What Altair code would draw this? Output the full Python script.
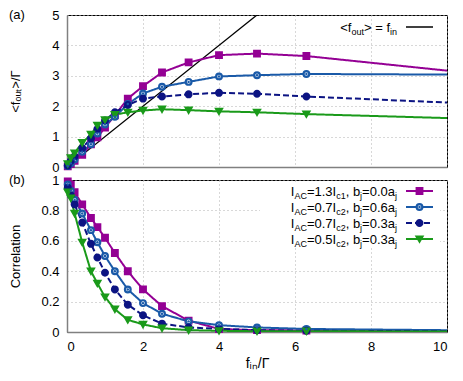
import altair as alt
import pandas as pd

# ---------------- data ----------------
x_vals = [0.02, 0.1, 0.2, 0.4, 0.63, 0.8, 1.0, 1.26, 1.6, 2.0, 2.5, 3.2, 4.0, 5.0, 6.3, 10.0]
series = ["s1", "s2", "s3", "s4"]

fout_s1 = [0.02, 0.1, 0.2, 0.4, 0.75, 0.98, 1.3, 1.7, 2.25, 2.66, 3.11, 3.44, 3.68, 3.73, 3.65, 3.17]
fout_s2 = [0.03, 0.12, 0.25, 0.5, 0.75, 1.1, 1.4, 1.65, 2.07, 2.42, 2.64, 2.8, 2.98, 3.02, 3.06, 3.04]
fout_s3 = [0.05, 0.2, 0.35, 0.62, 0.94, 1.25, 1.53, 1.8, 2.04, 2.25, 2.32, 2.39, 2.44, 2.41, 2.32, 2.12]
fout_s4 = [0.1, 0.3, 0.46, 0.8, 1.07, 1.37, 1.55, 1.72, 1.8, 1.86, 1.9, 1.87, 1.83, 1.8, 1.74, 1.61]

corr_s1 = [0.99, 0.97, 0.92, 0.84, 0.75, 0.69, 0.62, 0.52, 0.40, 0.28, 0.17, 0.075, 0.02, 0.012, 0.01, 0.006]
corr_s2 = [0.97, 0.93, 0.87, 0.78, 0.67, 0.59, 0.50, 0.40, 0.28, 0.19, 0.12, 0.07, 0.045, 0.03, 0.02, 0.012]
corr_s3 = [0.95, 0.90, 0.84, 0.72, 0.58, 0.49, 0.39, 0.28, 0.18, 0.11, 0.055, 0.03, 0.02, 0.012, 0.008, 0.005]
corr_s4 = [0.92, 0.88, 0.78, 0.59, 0.40, 0.32, 0.23, 0.15, 0.08, 0.05, 0.025, 0.012, 0.008, 0.005, 0.005, 0.003]

x_ticks = [0, 2, 4, 6, 8, 10]
y_ticks_top = [0, 1, 2, 3, 4, 5]
y_ticks_bot = [0, 0.2, 0.4, 0.6, 0.8, 1.0]

colors = ["#940094", "#1a5aa8", "#0c1483", "#1a9a1a"]
fills = ["#940094", "#ffffff", "#0c1483", "#1a9a1a"]
shapes = ["square", "circle", "circle", "triangle-down"]
sizes = [32, 34, 40, 60]
dashes = [[1, 0], [1, 0], [6, 3], [1, 0]]

legend_top = [("<f", "n"), ("out", "s"), ("> = f", "n"), ("in", "s")]
legend_rows = [
    [("I", "n"), ("AC", "s"), ("=1.3I", "n"), ("c1", "s"), (", b", "n"), ("j", "s"), ("=0.0a", "n"), ("j", "s")],
    [("I", "n"), ("AC", "s"), ("=0.7I", "n"), ("c2", "s"), (", b", "n"), ("j", "s"), ("=0.6a", "n"), ("j", "s")],
    [("I", "n"), ("AC", "s"), ("=0.7I", "n"), ("c2", "s"), (", b", "n"), ("j", "s"), ("=0.3a", "n"), ("j", "s")],
    [("I", "n"), ("AC", "s"), ("=0.5I", "n"), ("c2", "s"), (", b", "n"), ("j", "s"), ("=0.3a", "n"), ("j", "s")],
]

# ---------------- layout helpers ----------------
W, H = 380, 152
FONT = "Liberation Sans"
NS, SS = 13, 9
AW = {"I": 278, "A": 667, "C": 722, "=": 584, ".": 278, ",": 278, " ": 278, "b": 556,
      "a": 556, "c": 500, "j": 222, "f": 278, "o": 556, "u": 556, "t": 278, "i": 222,
      "n": 556, "<": 584, ">": 584}


def tw(s, size):
    return sum(AW.get(ch, 556) for ch in s) * size / 1000.0


def px_x(px):
    return px / W * 10.0


def build_text(pieces, right_px, base_py, to_y):
    total = sum(tw(t, NS if k == "n" else SS) for t, k in pieces)
    p = right_px - total
    out = []
    for t, k in pieces:
        size = NS if k == "n" else SS
        out.append({"x": px_x(p), "y": to_y(base_py + (3.5 if k == "s" else 0)), "text": t, "kind": k})
        p += tw(t, size)
    return out


def top_y(py):
    return 5.0 * (1 - py / H)


def bot_y(py):
    return 1.0 * (1 - py / H)


col_scale = alt.Scale(domain=series, range=colors)
fill_scale = alt.Scale(domain=series, range=fills)
shape_scale = alt.Scale(domain=series, range=shapes)
size_scale = alt.Scale(domain=series, range=sizes)
dash_scale = alt.Scale(domain=series, range=dashes)

ys_top = [fout_s1, fout_s2, fout_s3, fout_s4]
ys_bot = [corr_s1, corr_s2, corr_s3, corr_s4]


def long_df(ys):
    rows = []
    for s, vals in zip(series, ys):
        for xv, yv in zip(x_vals, vals):
            rows.append({"series": s, "x": xv, "y": yv})
    return pd.DataFrame(rows)


grid_kw = dict(grid=True, gridDash=[1, 3], gridColor="#b0b0b0", ticks=False, labelOverlap=False,
               domainColor="#808080", domainWidth=1.5, labelPadding=8, tickCount=12, format=".1~f")
xs = alt.Scale(domain=[0, 10], nice=False, zero=False)


def make_enc(xaxis, yscale, yaxis):
    def X(field="x"):
        return alt.X(f"{field}:Q", scale=xs, axis=xaxis)

    def Y(field="y"):
        return alt.Y(f"{field}:Q", scale=yscale, axis=yaxis)
    return X, Y


def series_layers(df, X, Y):
    lines = alt.Chart(df).mark_line(strokeWidth=2, clip=True).encode(
        x=X(), y=Y(),
        color=alt.Color("series:N", scale=col_scale, legend=None),
        strokeDash=alt.StrokeDash("series:N", scale=dash_scale, legend=None),
        detail="series:N",
    )
    pts_df = df[df["x"] < 10]
    pts = alt.Chart(pts_df).mark_point(filled=False, strokeWidth=2.2, opacity=1).encode(
        x=X(), y=Y(),
        stroke=alt.Stroke("series:N", scale=col_scale, legend=None),
        fill=alt.Fill("series:N", scale=fill_scale, legend=None),
        shape=alt.Shape("series:N", scale=shape_scale, legend=None),
        size=alt.Size("series:N", scale=size_scale, legend=None),
    )
    dots = alt.Chart(pts_df[pts_df["series"] == "s2"]).mark_circle(size=6, color=colors[1], opacity=1).encode(
        x=X(), y=Y())
    return [lines, pts, dots]


def text_layers(rows, X, Y):
    tdf = pd.DataFrame(rows)
    n = alt.Chart(tdf[tdf["kind"] == "n"]).mark_text(
        align="left", baseline="alphabetic", font=FONT, fontSize=NS, color="black").encode(
        x=X(), y=Y(), text="text:N")
    s = alt.Chart(tdf[tdf["kind"] == "s"]).mark_text(
        align="left", baseline="alphabetic", font=FONT, fontSize=SS, color="black").encode(
        x=X(), y=Y(), text="text:N")
    return [n, s]


# ---------------- top panel ----------------
Xt, Yt = make_enc(
    alt.Axis(values=x_ticks, labels=False, title=None, **grid_kw),
    alt.Scale(domain=[0, 5], nice=False, zero=False),
    alt.Axis(values=y_ticks_top, title="<fₒᵤₜ>/Γ", titleAngle=270, titleAlign="center",
             titleBaseline="bottom", titleX=-45, titleY=H / 2, **grid_kw),
)
df_top = long_df(ys_top)
ident = pd.DataFrame({"x": [0.0, 5.0], "y": [0.0, 5.0]})
ident_line = alt.Chart(ident).mark_line(color="black", strokeWidth=1.3, clip=True).encode(x=Xt(), y=Yt())

top_text = build_text(legend_top, 330, 16.5, top_y)
top_leg_line = alt.Chart(pd.DataFrame({"x": [px_x(339)], "x2": [px_x(366)], "y": [top_y(12)]})).mark_rule(
    color="black", strokeWidth=1.5).encode(x=Xt(), x2="x2:Q", y=Yt())
lab_a = alt.Chart(pd.DataFrame({"t": ["(a)"]})).mark_text(
    align="left", baseline="middle", font=FONT, fontSize=NS, color="black").encode(
    x=alt.value(-58), y=alt.value(0), text="t:N")

top = alt.layer(ident_line, *series_layers(df_top, Xt, Yt), top_leg_line,
                *text_layers(top_text, Xt, Yt), lab_a).properties(width=W, height=H)

# ---------------- bottom panel ----------------
Xb, Yb = make_enc(
    alt.Axis(values=x_ticks, title="fᵢₙ/Γ", titlePadding=3, titleFontSize=14, **grid_kw),
    alt.Scale(domain=[0, 1], nice=False, zero=False),
    alt.Axis(values=y_ticks_bot, title="Correlation", titleAngle=270,
             titleAlign="center", titleBaseline="bottom", titleX=-45, titleY=H / 2, **grid_kw),
)
df_bot = long_df(ys_bot)

box = alt.Chart(pd.DataFrame({"x": [px_x(193)], "x2": [px_x(373)], "y": [bot_y(2)], "y2": [bot_y(67)]})).mark_rect(
    color="white").encode(x=Xb(), x2="x2:Q", y=Yb(), y2="y2:Q")

leg_rows = []
txt_rows = []
centers = [11, 27, 43, 59]
for s, c, pieces in zip(series, centers, legend_rows):
    leg_rows.append({"series": s, "x": px_x(339), "x2": px_x(366), "xm": px_x(352.5), "y": bot_y(c)})
    txt_rows += build_text(pieces, 330, c + 4.5, bot_y)
leg_df = pd.DataFrame(leg_rows)
leg_lines = alt.Chart(leg_df).mark_rule(strokeWidth=2).encode(
    x=Xb(), x2="x2:Q", y=Yb(),
    color=alt.Color("series:N", scale=col_scale, legend=None),
    strokeDash=alt.StrokeDash("series:N", scale=dash_scale, legend=None))
leg_pts = alt.Chart(leg_df).mark_point(filled=False, strokeWidth=2.2, opacity=1).encode(
    x=Xb("xm"), y=Yb(),
    stroke=alt.Stroke("series:N", scale=col_scale, legend=None),
    fill=alt.Fill("series:N", scale=fill_scale, legend=None),
    shape=alt.Shape("series:N", scale=shape_scale, legend=None),
    size=alt.Size("series:N", scale=size_scale, legend=None))
leg_dot = alt.Chart(leg_df[leg_df["series"] == "s2"]).mark_circle(size=6, color=colors[1], opacity=1).encode(
    x=Xb("xm"), y=Yb())
lab_b = alt.Chart(pd.DataFrame({"t": ["(b)"]})).mark_text(
    align="left", baseline="middle", font=FONT, fontSize=NS, color="black").encode(
    x=alt.value(-58), y=alt.value(0), text="t:N")

bot = alt.layer(*series_layers(df_bot, Xb, Yb), box, leg_lines, leg_pts, leg_dot,
                *text_layers(txt_rows, Xb, Yb), lab_b).properties(width=W, height=H)

chart = alt.vconcat(top, bot, spacing=13, bounds="flush").properties(
    padding={"left": 0, "top": 0, "right": 4, "bottom": 0}
).configure_view(stroke="black", strokeWidth=1).configure_axis(
    labelFont=FONT, titleFont=FONT, labelFontSize=NS, titleFontSize=NS, titleFontWeight="normal",
    labelColor="black", titleColor="black"
)

chart.save("out.html", embed_options={"renderer": "svg", "actions": False})
